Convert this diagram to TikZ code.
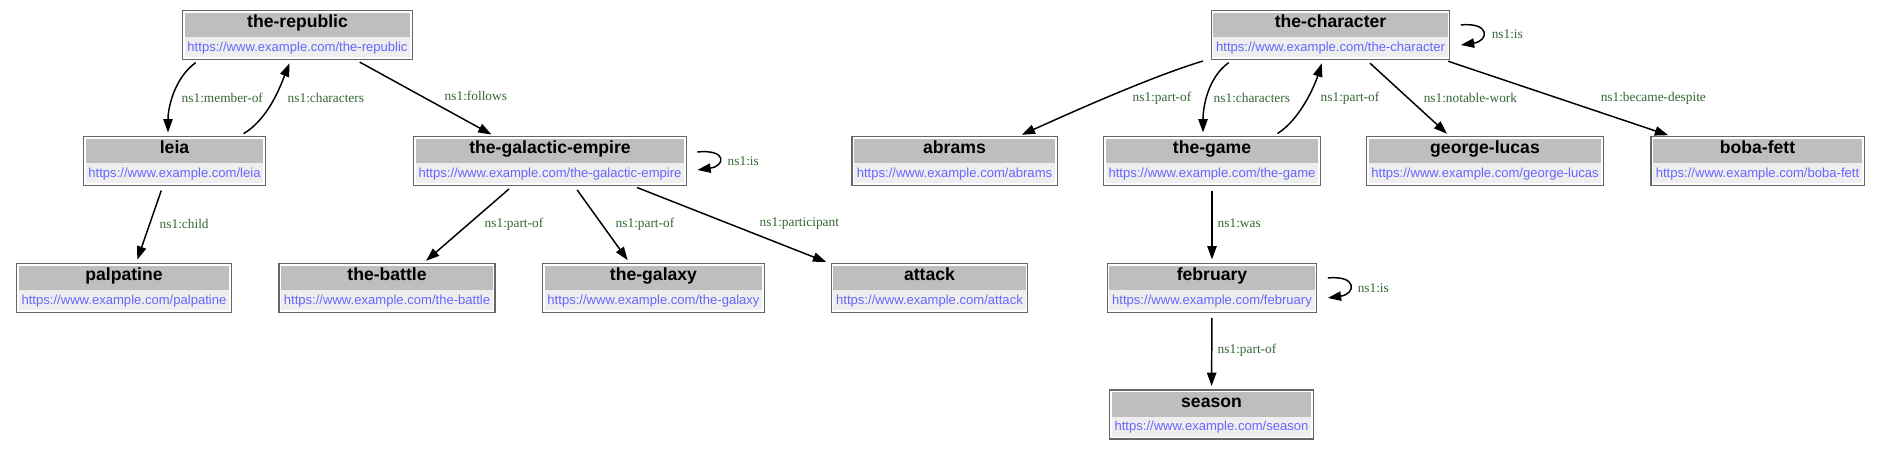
\documentclass[tikz,border=0pt]{standalone}
\usepackage{fontspec}
\setmainfont{Liberation Serif}
\newfontfamily\boxfont{Liberation Sans}
\usetikzlibrary{shapes.multipart,arrows.meta}

\definecolor{hdrgray}{HTML}{BEBEBE}
\definecolor{urlbg}{HTML}{EEEEEE}
\definecolor{urlblue}{HTML}{6666FF}
\definecolor{lblgreen}{HTML}{336633}
\definecolor{framegray}{HTML}{666666}

% title row and url row of one resource box
\newcommand{\ent}[1]{%
  \rule[-7pt]{0pt}{18pt}{\boxfont\fontsize{13.2}{15}\selectfont\bfseries #1}%
  \nodepart{two}%
  \rule[-4.3pt]{0pt}{14.8pt}{\boxfont\fontsize{9.8}{12}\selectfont\color{urlblue}https://www.example.com/#1}}

\tikzset{
  ent/.style={rectangle split, rectangle split parts=2,
    rectangle split part fill={hdrgray,urlbg},
    inner xsep=2.1pt, inner ysep=0pt, outer sep=1.6pt},
  boxframe/.style={draw=framegray, line width=0.9pt},
  rel/.style={draw=black, line width=1.1pt, -{Triangle[length=10pt,width=7pt]},
    shorten <=4pt, shorten >=3pt},
  relloop/.style={draw=black, line width=1.1pt, -{Triangle[length=10pt,width=7pt]}},
  lbl/.style={text=lblgreen, font=\fontsize{10}{12}\selectfont, inner sep=0pt, anchor=west}
}

\begin{document}
\begin{tikzpicture}[x=0.75pt, y=-0.75pt]
  \useasboundingbox (0,0) rectangle (1881,449);

  % left graph
  \node[ent] (republic) at (297.5,35) {\ent{the-republic}};
  \node[ent] (leia) at (174.5,161) {\ent{leia}};
  \node[ent] (empire) at (550,161) {\ent{the-galactic-empire}};
  \node[ent] (palpatine) at (124,288) {\ent{palpatine}};
  \node[ent] (battle) at (387,288) {\ent{the-battle}};
  \node[ent] (galaxy) at (653.5,288) {\ent{the-galaxy}};
  \node[ent] (attack) at (929.5,288) {\ent{attack}};

  % right graph
  \node[ent] (character) at (1330.5,35) {\ent{the-character}};
  \node[ent] (abrams) at (954.5,161) {\ent{abrams}};
  \node[ent] (game) at (1212,161) {\ent{the-game}};
  \node[ent] (lucas) at (1485,161) {\ent{george-lucas}};
  \node[ent] (boba) at (1757.5,161) {\ent{boba-fett}};
  \node[ent] (february) at (1212,288) {\ent{february}};
  \node[ent] (season) at (1211.5,414.5) {\ent{season}};

  % outer frames
  \foreach \n in {republic,leia,empire,palpatine,battle,galaxy,attack,
                  character,abrams,game,lucas,boba,february,season}
    \draw[boxframe] (\n.south west) rectangle (\n.north east);

  % edges, left graph
  \draw[rel] (republic.south -| 200,0) .. controls +(-25,18) and +(0,-30) .. (leia.north -| 168,0)
    node[lbl] (l1) at (181,98) {ns1:member-of};
  \draw[rel] (leia.north -| 239,0) .. controls +(30,-18) and +(-10,25) .. (republic.south -| 291,0)
    node[lbl] (l2) at (287,98) {ns1:characters};
  \draw[rel] (republic.south -| 355,0) -- (empire.north -| 495,0)
    node[lbl] (l3) at (444,96) {ns1:follows};
  \draw[rel] (leia.south -| 163,0) -- (palpatine.north -| 136,0)
    node[lbl] (l4) at (159,224) {ns1:child};
  \draw[rel] (empire.south -| 513,0) -- (battle.north -| 423,0)
    node[lbl] (l5) at (484,224) {ns1:part-of};
  \draw[rel] (empire.south -| 574,0) -- (galaxy.north -| 630,0)
    node[lbl] (l6) at (615,224) {ns1:part-of};
  \draw[rel] (empire.south -| 632,0) -- (attack.north -| 830,0)
    node[lbl] (l7) at (759,224) {ns1:participant};
  \draw[relloop] ([shift={(11,-9)}]empire.east) .. controls +(30,-3) and +(28,-4) .. ([shift={(11,9)}]empire.east)
    node[lbl] (l8) at (727,161) {ns1:is};

  % edges, right graph
  \draw[rel] (character.south -| 1208,0) .. controls +(-60,18) and +(40,-18) .. (abrams.north -| 1018,0)
    node[lbl] (l9) at (1132,98) {ns1:part-of};
  \draw[rel] (character.south -| 1233,0) .. controls +(-25,18) and +(0,-30) .. (game.north -| 1203,0)
    node[lbl] (l10) at (1213,98) {ns1:characters};
  \draw[rel] (game.north -| 1273,0) .. controls +(28,-18) and +(-8,25) .. (character.south -| 1323,0)
    node[lbl] (l11) at (1320,98) {ns1:part-of};
  \draw[rel] (character.south -| 1366,0) -- (lucas.north -| 1450,0)
    node[lbl] (l12) at (1423,98) {ns1:notable-work};
  \draw[rel] (character.south -| 1443,0) -- (boba.north -| 1672,0)
    node[lbl] (l13) at (1600,98) {ns1:became-despite};
  \draw[relloop] ([shift={(11,-10)}]character.east) .. controls +(30,-3) and +(28,-4) .. ([shift={(11,10)}]character.east)
    node[lbl] (l14) at (1491,34) {ns1:is};
  \draw[rel] (game) -- (february)
    node[lbl] (l15) at (1217,223) {ns1:was};
  \draw[relloop] ([shift={(11,-10)}]february.east) .. controls +(30,-3) and +(28,-4) .. ([shift={(11,10)}]february.east)
    node[lbl] (l16) at (1357,288) {ns1:is};
  \draw[rel] (february) -- (season)
    node[lbl] (l17) at (1217,350) {ns1:part-of};
\end{tikzpicture}
\end{document}
